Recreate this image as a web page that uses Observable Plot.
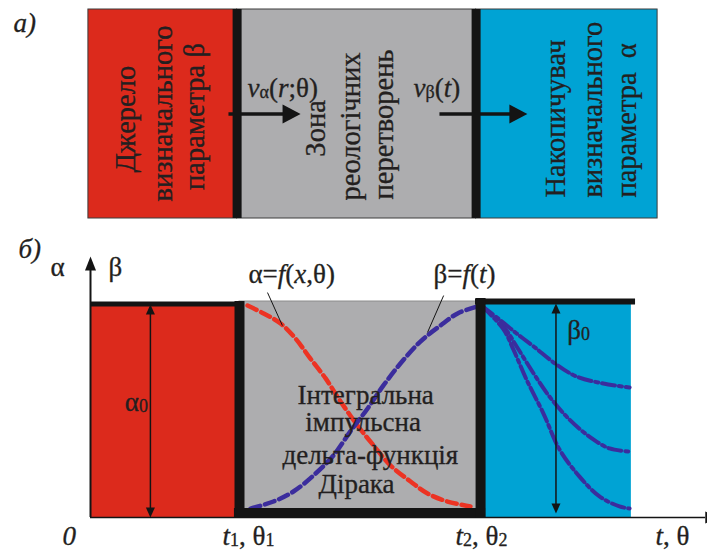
<!DOCTYPE html>
<html><head><meta charset="utf-8">
<script src="https://cdn.jsdelivr.net/npm/d3@7"></script>
<script src="https://cdn.jsdelivr.net/npm/@observablehq/plot@0.6"></script>
<style>
html,body{margin:0;padding:0;background:#fff;overflow:hidden;}
#chart svg{display:block;}
#chart svg text{font-family:"Liberation Serif","Times New Roman",Tinos,"DejaVu Serif",serif;}
</style></head><body><div id="chart"></div>
<script>
// ================= DATA =================
// time axis (t, θ) in arbitrary units; amplitude (α, β) with α0 = β0 = 1
const t1 = 5.0, t2 = 13.09, tEnd = 18.15, tAxisEnd = 20.64;

// ---- panel а): block diagram ----
const topZoneNames = ["Джерело", "Зона", "Накопичувач"];
const topZoneStart = [-0.07, 4.92, 12.94];
const topZoneEnd   = [4.92, 12.94, 19.03];
const topDividers  = [4.92, 12.94];
const topArrowFrom = [4.63, 11.71];
const topArrowTo   = [7.05, 14.66];
const topArrowLevel = 0.5;

const topVText   = ["Джерело", "визначального", "параметра β",
                    "Зона", "реологічних", "перетворень",
                    "Накопичувач", "визначального", "параметра  α"];
const topVT      = [1.20, 2.42, 3.50, 7.55, 8.75, 9.86, 15.62, 16.86, 18.0];
const topVA      = [0.475, 0.502, 0.488, 0.431, 0.440, 0.450, 0.100, 0.100, 0.100];
const topVAnchor = ["middle","middle","middle","middle","middle","middle","start","start","start"];

const topLabelText = ["*а)*", "*v*_α_(*r*;θ)", "*v*_β_(*t*)"];
const topLabelT    = [-2.58, 5.27, 10.84];
const topLabelA    = [0.89, 0.579, 0.579];

// ---- panel б): time diagram ----
const stageStart = [0, t1, t2];
const stageEnd   = [t1, t2, tEnd];
const stageTop   = [1, 1.014, 1.005];

// α = f(x, θ) (red dashed)
const alphaT = [5.27, 5.81, 6.38, 6.88, 7.38, 7.89, 8.39, 8.96, 9.50, 10.07, 10.74, 11.31, 11.98, 12.75];
const alphaA = [0.995, 0.958, 0.911, 0.840, 0.746, 0.653, 0.545, 0.432, 0.338, 0.244, 0.169, 0.113, 0.075, 0.052];
// β = f(t) (blue dashed)
const betaT = [5.37, 6.14, 6.81, 7.48, 8.15, 8.72, 9.30, 9.83, 10.40, 11.07, 11.74, 12.32, 12.99];
const betaA = [0.042, 0.075, 0.122, 0.197, 0.291, 0.404, 0.512, 0.620, 0.723, 0.826, 0.901, 0.958, 0.991];
// relaxation curves in accumulator (dash-dot)
const decay1T = [13.15, 13.72, 14.30, 14.87, 15.64, 16.31, 17.21, 18.09];
const decay1A = [0.991, 0.930, 0.864, 0.803, 0.718, 0.662, 0.629, 0.610];
const decay2T = [13.15, 13.86, 14.30, 14.87, 15.40, 16.07, 16.74, 17.42, 18.09];
const decay2A = [0.991, 0.897, 0.803, 0.676, 0.568, 0.460, 0.380, 0.324, 0.310];
const decay3T = [13.15, 13.86, 14.19, 14.63, 15.20, 15.74, 16.41, 17.08, 17.75, 18.09];
const decay3A = [0.991, 0.883, 0.789, 0.648, 0.488, 0.319, 0.192, 0.099, 0.052, 0.042];

// amplitude markers α0, β0
const ampT = [2.01, 15.62];
const ampTop = [1.0, 1.005];
const ampBottom = [0.0, 0.019];

// leader lines for the formula labels
const leaderT1 = [5.94, 11.85], leaderA1 = [1.056, 1.042];
const leaderT2 = [6.44, 11.31], leaderA2 = [0.901, 0.869];

const labelText = ["*б)*", "α", "β", "α=*f*(*x*,θ)", "β=*f*(*t*)",
  "Інтегральна", "імпульсна", "дельта-функція", "Дірака",
  "α_0_", "β_0_", "*0*", "*t*_1_, θ_1_", "*t*_2_, θ_2_", "*t*, θ"];
const labelT = [-2.42, -1.34, 0.60, 5.30, 11.51, 6.95, 7.21, 6.44, 7.65, 1.93, 16.0, -0.94, 4.43, 12.25, 18.96];
const labelA = [1.216, 1.136, 1.136, 1.099, 1.099, 0.535, 0.404, 0.249, 0.117, 0.502, 0.836, -0.131, -0.131, -0.131, -0.131];
const labelAnchor = ["start","start","start","start","start","start","start","start","start",
  "end","start","start","start","start","start"];

// ================= STYLE =================
const FONT = "Liberation Serif, Times New Roman, Tinos, DejaVu Serif, serif";
const INK = "#231f20", BLACK = "#141414";
const zoneFill = ["#dc2a1c", "#adadaf", "#00a3d4"];
const RED_LINE = "#ec3323", BLUE_LINE = "#3b2d9d";
const X = {domain: [-90 / 29.8, 617 / 29.8], range: [0, 707], axis: null};

function tri(dir, L, H) {
  const h = H / 2;
  return {draw(ctx) {
    ctx.moveTo(0, 0);
    if (dir === "right") { ctx.lineTo(-L, -h); ctx.lineTo(-L, h); }
    else if (dir === "up") { ctx.lineTo(-h, L); ctx.lineTo(h, L); }
    else { ctx.lineTo(-h, -L); ctx.lineTo(h, -L); }
    ctx.closePath();
  }};
}
const idx = (arr) => arr.map((_, i) => i);
const pts = (T, A) => T.map((t, i) => ({t, a: A[i]}));

function textMarks(texts, T, A, anchors, extra) {
  return ["start", "middle", "end"].map(anchor =>
    Plot.text(idx(texts).filter(i => anchors[i] === anchor), {
      x: i => T[i], y: i => A[i], text: i => texts[i],
      textAnchor: anchor, fontSize: 27, fill: INK, stroke: INK, strokeWidth: 0.3, ...extra
    }));
}

// rich text: *italic*, _subscript_
function richify(svg) {
  const ns = "http://www.w3.org/2000/svg";
  svg.querySelectorAll("text").forEach(el => {
    if (el.childElementCount) return;
    const s = el.textContent;
    if (!/[*_]/.test(s)) return;
    el.textContent = "";
    let pendingUp = false;
    s.split(/(\*[^*]+\*|_[^_]+_)/).filter(Boolean).forEach(tok => {
      const sp = document.createElementNS(ns, "tspan");
      if (tok[0] === "*") {
        sp.setAttribute("font-style", "italic");
        sp.textContent = tok.slice(1, -1);
      } else if (tok[0] === "_") {
        sp.setAttribute("font-size", "18");
        sp.textContent = tok.slice(1, -1);
      } else {
        sp.textContent = tok;
      }
      if (tok[0] === "_") { sp.setAttribute("dy", "1"); }
      else if (pendingUp) { sp.setAttribute("dy", "-1"); }
      pendingUp = tok[0] === "_";
      el.appendChild(sp);
    });
  });
}

// ================= PANEL а) =================
const topPlot = Plot.plot({
  width: 707, height: 228, margin: 0,
  x: X,
  y: {domain: [0, 1], range: [218, 9], axis: null},
  color: {type: "identity"},
  style: {fontFamily: FONT, background: "white", overflow: "hidden"},
  marks: [
    Plot.rect(idx(topZoneNames), {x1: i => topZoneStart[i], x2: i => topZoneEnd[i], y1: 0, y2: 1,
      fill: i => zoneFill[i], stroke: "#3c3c3c", strokeWidth: 1}),
    Plot.ruleX(topDividers, {y1: 0, y2: 1, stroke: BLACK, strokeWidth: 9}),
    Plot.link(idx(topArrowFrom), {x1: i => topArrowFrom[i], x2: i => topArrowTo[i] - 0.5,
      y1: topArrowLevel, y2: topArrowLevel, stroke: BLACK, strokeWidth: 3.5}),
    Plot.dot(idx(topArrowTo), {x: i => topArrowTo[i], y: topArrowLevel, symbol: tri("right", 18, 19),
      fill: BLACK, stroke: "none"}),
    ...textMarks(topVText, topVT, topVA, topVAnchor, {rotate: -90, lineAnchor: "middle", fontSize: 28.5}),
    ...textMarks(topLabelText, topLabelT, topLabelA, topLabelText.map(() => "start"), {lineAnchor: "bottom"})
  ]
});

// ================= PANEL б) =================
const botPlot = Plot.plot({
  width: 707, height: 322, margin: 0,
  x: X,
  y: {domain: [0, 1], range: [289, 76], axis: null},
  color: {type: "identity"},
  style: {fontFamily: FONT, background: "white", overflow: "hidden"},
  marks: [
    Plot.rect(idx(stageStart), {x1: i => stageStart[i], x2: i => stageEnd[i], y1: 0, y2: i => stageTop[i],
      fill: i => zoneFill[i], stroke: i => (i === 1 ? "#8c8c8c" : "none"), strokeWidth: 1}),
    // axes
    Plot.ruleY([0], {x1: 0, x2: tAxisEnd, stroke: BLACK, strokeWidth: 1.6}),
    Plot.ruleX([0], {y1: 0, y2: 1.17, stroke: BLACK, strokeWidth: 2}),
    Plot.dot([0], {x: 0, y: 1.225, symbol: tri("up", 14, 11), fill: BLACK, stroke: "none"}),
    Plot.dot([0], {x: 21.1, y: 0, symbol: tri("right", 14, 12), fill: BLACK, stroke: "none"}),
    // curves
    Plot.line(pts(alphaT, alphaA), {x: "t", y: "a", curve: "catmull-rom", stroke: RED_LINE, strokeWidth: 4.5, strokeDasharray: "10 5"}),
    Plot.line(pts(betaT, betaA), {x: "t", y: "a", curve: "catmull-rom", stroke: BLUE_LINE, strokeWidth: 4.5, strokeDasharray: "10 5"}),
    ...[[decay1T, decay1A], [decay2T, decay2A], [decay3T, decay3A]].map(([T, A]) =>
      Plot.line(pts(T, A), {x: "t", y: "a", curve: "catmull-rom", stroke: BLUE_LINE, strokeWidth: 4, strokeDasharray: "13 4 3 4"})),
    // thick borders
    Plot.ruleY([1.002], {x1: 0, x2: t1, stroke: BLACK, strokeWidth: 5}),
    Plot.ruleY([1.014], {x1: t2 - 0.17, x2: tEnd + 0.14, stroke: BLACK, strokeWidth: 6}),
    Plot.ruleY([0.021], {x1: t1 - 0.17, x2: t2 + 0.17, stroke: BLACK, strokeWidth: 10}),
    Plot.ruleX([t1], {y1: -0.005, y2: 1.014, stroke: BLACK, strokeWidth: 10}),
    Plot.ruleX([t2], {y1: -0.005, y2: 1.028, stroke: BLACK, strokeWidth: 10}),
    // α0, β0 double arrows
    Plot.link(idx(ampT), {x1: i => ampT[i], x2: i => ampT[i], y1: i => ampBottom[i] + 0.03, y2: i => ampTop[i] - 0.03,
      stroke: BLACK, strokeWidth: 1.5}),
    Plot.dot(idx(ampT), {x: i => ampT[i], y: i => ampTop[i], symbol: tri("up", 10, 9), fill: BLACK, stroke: "none"}),
    Plot.dot(idx(ampT), {x: i => ampT[i], y: i => ampBottom[i], symbol: tri("down", 10, 9), fill: BLACK, stroke: "none"}),
    // leader lines
    Plot.link(idx(leaderT1), {x1: i => leaderT1[i], y1: i => leaderA1[i], x2: i => leaderT2[i], y2: i => leaderA2[i],
      stroke: BLACK, strokeWidth: 1}),
    ...textMarks(labelText, labelT, labelA, labelAnchor, {lineAnchor: "bottom"})
  ]
});

const root = document.getElementById("chart");
root.appendChild(topPlot);
root.appendChild(botPlot);
richify(topPlot);
richify(botPlot);
</script>
</body></html>
